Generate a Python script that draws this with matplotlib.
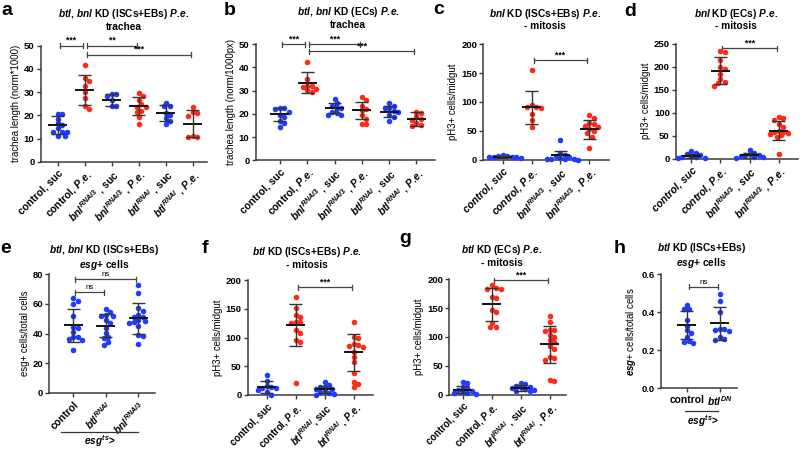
import numpy as np
import matplotlib
matplotlib.use('Agg')
import matplotlib.pyplot as plt
from matplotlib.lines import Line2D

plt.rcParams['font.family'] = ['Liberation Sans', 'DejaVu Sans']
plt.rcParams['font.weight'] = 'bold'
plt.rcParams['mathtext.fontset'] = 'custom'
plt.rcParams['mathtext.rm'] = 'Liberation Sans:bold'
plt.rcParams['mathtext.it'] = 'Liberation Sans:italic:bold'
plt.rcParams['mathtext.bf'] = 'Liberation Sans:bold'

BLUE = '#1f3cff'
RED = '#ff2a18'
B, R = BLUE, RED

# ---------------- data ----------------
PE = r'$\mathit{P.\!e.}$'
lab_bnl_suc = r'$\mathit{bnl}^{\mathit{RNAi3}}$ , suc'
lab_bnl_pe = r'$\mathit{bnl}^{\mathit{RNAi3}}$ , ' + PE
lab_btl_suc = r'$\mathit{btl}^{\mathit{RNAi}}$ , suc'
lab_btl_pe = r'$\mathit{btl}^{\mathit{RNAi}}$ , ' + PE
lab_ctrl_suc = 'control, suc'
lab_ctrl_pe = 'control, ' + PE

# a
a_labels = [lab_ctrl_suc, lab_ctrl_pe, lab_bnl_suc, lab_bnl_pe, lab_btl_suc, lab_btl_pe]
a_colors = [B, R, B, R, B, R]
a_points = [
    [20.5, 20.5, 18.5, 16.5, 16, 14.5, 13, 13, 12.8, 11.2, 11.2],
    [41.7, 35.9, 34.8, 32.8, 29.9, 27.3, 24, 22.6],
    [29, 29, 28.5, 26.5, 24.2, 24.2],
    [29.5, 28.3, 26.6, 24.9, 23.4, 23.4, 22, 21.3, 19.4, 16.2],
    [25.4, 24, 23.8, 20.8, 20, 18.7, 17.7, 16.1],
    [23.5, 21.3, 21, 19.8, 11, 10.5, 10.5],
]
a_mean = [15.8, 31.0, 26.5, 24.0, 21.0, 16.3]
a_sd = [3.8, 6.5, 2.5, 3.8, 3.5, 5.8]

# b
b_labels = a_labels
b_colors = a_colors
b_points = [
    [22.7, 22.5, 22, 21, 19.5, 18.8, 17.1, 16.2, 14.5],
    [42.4, 35, 32.2, 32, 31.5, 30.6, 30.3, 29.6],
    [26.3, 24.6, 23.4, 22.5, 22.4, 21, 20.3, 19.5, 19.5],
    [27.2, 26, 23.4, 22, 21.5, 19.5, 18, 15.8, 15.5],
    [24.9, 23.4, 22.6, 22.4, 21.4, 21, 19.5, 18.8, 17],
    [21, 20.5, 19, 18, 17.5, 16, 15.2, 15],
]
b_mean = [19.8, 33.5, 22.5, 21.5, 21.0, 18.0]
b_sd = [2.8, 4.4, 2.0, 3.5, 2.2, 3.0]

# c
c_labels = [lab_ctrl_suc, lab_ctrl_pe, lab_bnl_suc, lab_bnl_pe]
c_colors = [B, R, B, R]
c_points = [
    [8, 7, 6, 5, 5, 4, 4, 3],
    [155.5, 95, 92, 91, 89, 80, 69, 56],
    [34, 11, 8, 6, 4, 3, 2, 2, 1, 0.5, 0],
    [77.5, 71.7, 64, 62, 58.4, 57, 52.6, 49.7, 45.7, 40, 19.7],
]
c_mean = [5, 91, 7.5, 53]
c_sd = [1.8, 28.5, 8, 16.5]

# d
d_labels = c_labels
d_colors = c_colors
d_points = [
    [16.5, 13, 10, 8, 6, 4.5, 3, 2, 1.5],
    [234, 231, 214, 200, 196, 184, 173, 166, 164, 159],
    [20, 13, 10, 8, 7, 6, 4, 3, 2],
    [91, 88, 84, 74.6, 69.6, 60, 59, 57, 55, 53, 51, 48, 9.4],
]
d_mean = [6.5, 191, 7.2, 61]
d_sd = [4, 29, 5, 20]

# e
e_labels = ['control', r'$\mathit{btl}^{\mathit{RNAi}}$', r'$\mathit{bnl}^{\mathit{RNAi3}}$']
e_colors = [B, B, B]
e_points = [
    [64, 62, 59.8, 52, 44.7, 44, 41, 38, 37.5, 36.2, 35.7, 29],
    [56.4, 54.4, 52.6, 52, 51.8, 49.2, 47, 43.6, 40.7, 38, 36.9, 34.6, 32.4],
    [72.8, 67.6, 57, 55.5, 52.6, 51.5, 51, 49.2, 48.8, 48, 47, 45.2, 39, 38.4, 33],
]
e_mean = [45.6, 45.4, 50.3]
e_sd = [11, 7.8, 10.6]

# f
f_labels = [lab_ctrl_suc, lab_ctrl_pe, r'$\mathit{btl}^{\mathit{RNAi}}$, suc',
            r'$\mathit{btl}^{\mathit{RNAi}}$ , ' + PE]
f_colors = [B, R, B, R]
f_points = [
    [34.8, 25, 15.7, 14.5, 12.8, 11.6, 8.7, 5.8, 0],
    [171, 150.7, 139, 136, 127.5, 127, 125.8, 113, 107, 95.7, 92.8, 20.3],
    [22, 17.4, 14.5, 14, 10.4, 10, 7, 6, 2.9, 2, 0],
    [126.4, 101.4, 98.6, 88.7, 87, 85.8, 84, 75.4, 66.7, 58, 38.8, 23, 20, 13.3],
]
f_mean = [14.5, 121, 9.9, 74.2]
f_sd = [10.5, 36.5, 6, 32.7]

# g
g_labels = [lab_ctrl_suc, lab_ctrl_pe, lab_btl_suc, lab_btl_pe]
g_colors = f_colors
g_points = [
    [22.5, 19.7, 13.9, 11, 8.1, 6.9, 5.2, 3.5, 2.5, 1.2],
    [190, 184, 184.5, 183, 170, 167, 147, 144, 124, 118, 116.8],
    [20.8, 18, 15.6, 13.9, 12.7, 12, 9.2, 8.5, 7, 6],
    [137, 125.4, 112, 111.5, 111, 103.5, 100.6, 94.8, 90.8, 84.4, 78.6, 64.7, 63, 60, 25.4, 24.3],
]
g_mean = [8.7, 156.6, 12.1, 87.3]
g_sd = [6.3, 28.5, 5.2, 32.4]

# h
h_labels = ['control', r'$\mathit{btl}^{\mathit{DN}}$']
h_colors = [B, B]
h_points = [
    [0.44, 0.42, 0.42, 0.36, 0.33, 0.305, 0.29, 0.27, 0.25, 0.245, 0.24],
    [0.495, 0.46, 0.40, 0.31, 0.31, 0.305, 0.30, 0.27, 0.26, 0.255],
]
h_mean = [0.332, 0.342]
h_sd = [0.074, 0.086]

# ---------------- drawing ----------------
W, H = 800, 451
fig = plt.figure(figsize=(8, 4.51), dpi=100)


def px_rect(l, t, r, b):
    return [l / W, 1 - b / H, (r - l) / W, (b - t) / H]


def ftext(x, y, s, **kw):
    return fig.text(x / W, 1 - y / H, s, **kw)


def swarm(ax, x0, vals, d=5.0):
    # simple beeswarm in pixel space, like Prism's scatter dot plot
    tr = ax.transData
    px0 = tr.transform((x0, 0))[0]
    sx = tr.transform((x0 + 1, 0))[0] - px0
    placed = []
    out = np.zeros(len(vals))
    order = np.argsort(vals)[::-1]
    steps = [0]
    for k in range(1, 14):
        steps += [k * d * 0.45, -k * d * 0.45]
    for i in order:
        py = tr.transform((x0, vals[i]))[1]
        for c in steps:
            if all((c - qx) ** 2 + (py - qy) ** 2 >= (0.85 * d) ** 2 for qx, qy in placed):
                break
        placed.append((c, py))
        out[i] = x0 + c / sx
    return out


def panel(rect, xlim, ylim, yticks, points, means, sds, colors, labels, ylabel,
          brackets, rot=45, italic=False, ytl=None, xfs=7.4):
    ax = fig.add_axes(px_rect(*rect))
    ax.set_xlim(*xlim)
    ax.set_ylim(*ylim)
    for s in ['top', 'right']:
        ax.spines[s].set_visible(False)
    for s in ['left', 'bottom']:
        ax.spines[s].set_color('#3a3a3a')
        ax.spines[s].set_linewidth(1.1)
    ax.tick_params(length=3, width=1.0, color='#3a3a3a', labelsize=6.8, pad=1.5)
    ax.set_yticks(yticks)
    if ytl is not None:
        ax.set_yticklabels(ytl)
    n = len(points)
    ax.set_xticks(range(n))
    if rot:
        ax.set_xticklabels(labels, rotation=rot, ha='right', rotation_mode='anchor',
                           fontstyle='italic' if italic else 'normal', fontsize=xfs)
    else:
        ax.set_xticklabels(labels, fontsize=xfs)
    wpx = (rect[2] - rect[0])
    hpx = (rect[3] - rect[1])
    sx = wpx / (xlim[1] - xlim[0])
    sy = hpx / (ylim[1] - ylim[0])
    hw_m, hw_c = 9.5 / sx, 6.5 / sx
    for i in range(n):
        v = points[i]
        xs = swarm(ax, i, v)
        ax.scatter(xs, v, s=16, color=colors[i], lw=0, zorder=3, clip_on=False)
        m, s = means[i], sds[i]
        ax.hlines(m, i - hw_m, i + hw_m, color='#111111', lw=1.4, zorder=4)
        ax.vlines(i, m - s, m + s, color='#333333', lw=1.0, zorder=4)
        ax.hlines([m - s, m + s], i - hw_c, i + hw_c, color='#333333', lw=1.0, zorder=4)
    for x1, x2, y, t in brackets:
        ins = 2.0 / sx
        dy = 2.5 / sy
        xa, xb = x1 + ins, x2 - ins
        ax.plot([xa, xb], [y, y], color='#444444', lw=0.9, clip_on=False)
        ax.plot([xa, xa], [y - dy, y + dy], color='#444444', lw=0.9, clip_on=False)
        ax.plot([xb, xb], [y - dy, y + dy], color='#444444', lw=0.9, clip_on=False)
        ax.text((x1 + x2) / 2, y + 1.0 / sy, t, ha='center', va='bottom',
                fontsize=6.2 if t != 'ns' else 5.8,
                fontweight='bold' if t != 'ns' else 'normal', clip_on=False)
    ax.set_ylabel(ylabel, fontsize=6.9, labelpad=2)
    return ax


# a
panel((40.7, 45.7, 206.5, 161.7), (-0.64, 5.5), (0, 50), [0, 10, 20, 30, 40, 50],
      a_points, a_mean, a_sd, a_colors, a_labels, 'trachea length (norm*1000)',
      [(0, 1, 50, '***'), (1, 3, 50, '**'), (1, 5, 46, '***')])
# b
panel((255.7, 44.3, 434.5, 160.3), (-0.89, 5.66), (0, 50), [0, 10, 20, 30, 40, 50],
      b_points, b_mean, b_sd, b_colors, b_labels, 'trachea length (norm/1000px)',
      [(0, 1, 50, '***'), (1, 3, 50, '***'), (1, 5, 47, '***')])
# c
panel((483.3, 44.3, 609.3, 159.7), (-0.67, 3.69), (0, 200), [0, 50, 100, 150, 200],
      c_points, c_mean, c_sd, c_colors, c_labels, 'pH3+ cells/midgut',
      [(1, 3, 172, '***')], italic=True)
# d
panel((676, 43.7, 797.8, 158.7), (-0.52, 3.65), (0, 250), [0, 50, 100, 150, 200, 250],
      d_points, d_mean, d_sd, d_colors, d_labels, 'pH3+ cells/midgut',
      [(1, 3, 240, '***')], italic=True)
# e
panel((49.3, 274.3, 155, 393), (-0.74, 2.51), (0, 80), [0, 20, 40, 60, 80],
      e_points, e_mean, e_sd, e_colors, e_labels, 'esg+ cells/total cells',
      [(0, 1, 68, 'ns'), (0, 2, 76.5, 'ns')])
# f
panel((247.7, 280, 372.8, 395), (-0.65, 3.65), (0, 200), [0, 50, 100, 150, 200],
      f_points, f_mean, f_sd, f_colors, f_labels, 'pH3+ cells/midgut',
      [(1, 3, 187, '***')], xfs=6.9)
# g
panel((449.3, 279.3, 566, 394.7), (-0.46, 3.55), (0, 200), [0, 50, 100, 150, 200],
      g_points, g_mean, g_sd, g_colors, g_labels, 'pH3+ cells/midgut',
      [(1, 3, 198, '***')], xfs=6.9)
# h
panel((660.7, 274.3, 736.6, 388.3), (-0.78, 1.5), (0, 0.6), [0, 0.2, 0.4, 0.6],
      h_points, h_mean, h_sd, h_colors, h_labels, r'$\mathit{esg}$+ cells/total cells',
      [(0, 1, 0.535, 'ns')], rot=0, ytl=['0.0', '0.2', '0.4', '0.6'])

# genotype underline for e and h
for x1, x2, y, xt, yt in [(61, 137.7, 432.3, 100, 441), (685, 717.7, 410.7, 703, 421)]:
    fig.add_artist(Line2D([x1 / W, x2 / W], [1 - y / H] * 2, transform=fig.transFigure,
                          color='#333333', lw=0.9))
    ftext(xt, yt, r'$\mathit{esg}^{\mathit{ts}}$>', ha='center', va='center', fontsize=7.2)

# titles
BB = r'$\mathit{btl,\,bnl}$'
titles = [
    (124, 19.5, BB + ' KD (ISCs+EBs) ' + PE + '\ntrachea'),
    (348, 17.5, BB + ' KD (ECs) ' + PE + '\ntrachea'),
    (545, 19, r'$\mathit{bnl}$ KD (ISCs+EBs) ' + PE + '\n- mitosis'),
    (736, 19, r'$\mathit{bnl}$ KD (ECs) ' + PE + '\n- mitosis'),
    (104, 257.5, BB + ' KD (ISCs+EBs)' + '\n' + r'$\mathit{esg}$+ cells'),
    (307, 257.5, r'$\mathit{btl}$ KD (ISCs+EBs) ' + PE + '\n- mitosis'),
    (502, 255.5, r'$\mathit{btl}$ KD (ECs) ' + PE + '\n- mitosis'),
    (701, 255.5, r'$\mathit{btl}$ KD (ISCs+EBs)' + '\n' + r'$\mathit{esg}$+ cells'),
]
for x, y, t in titles:
    ftext(x, y, t, ha='center', va='center', fontsize=7.3, linespacing=1.1)

# panel letters
for x, y, t in [(1, 15, 'a'), (224, 15, 'b'), (433, 14, 'c'), (624, 16.5, 'd'),
                (0, 253, 'e'), (202, 253, 'f'), (399, 243, 'g'), (614, 253, 'h')]:
    ftext(x, y, t, ha='left', va='baseline', fontsize=14, fontweight='bold')

fig.savefig('out.png', dpi=100)
